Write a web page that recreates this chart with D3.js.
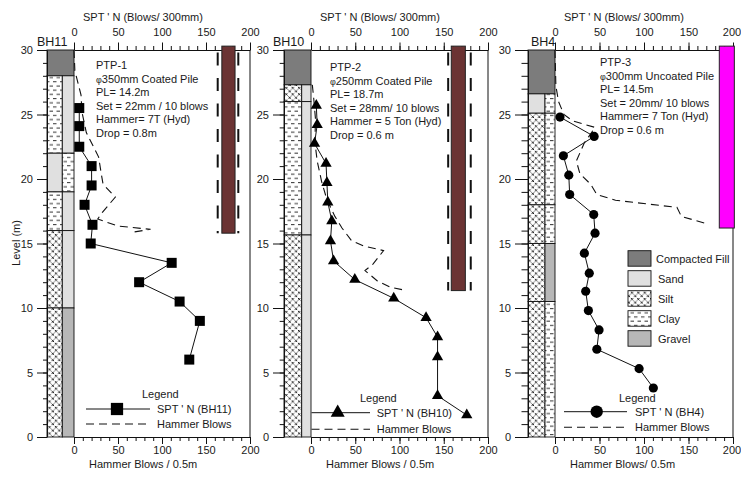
<!DOCTYPE html>
<html>
<head>
<meta charset="utf-8">
<script src="https://cdn.jsdelivr.net/npm/d3@7"></script>
<style>
  html, body { margin: 0; padding: 0; background: #fff; }
  svg { display: block; }
  text { font-family: "Liberation Sans", Arial, sans-serif; fill: #1a1a1a; }
</style>
</head>
<body>
<svg id="chart" width="741" height="479"></svg>
<script>
// ---- Data ---------------------------------------------------------------
const boreholes = ["BH11", "BH10", "BH4"];
const pileTests = ["PTP-1", "PTP-2", "PTP-3"];
const pileNotes = [
  ["350mm Coated Pile", "PL= 14.2m", "Set = 22mm / 10 blows", "Hammer= 7T (Hyd)", "Drop = 0.8m"],
  ["250mm Coated Pile", "PL= 18.7m", "Set = 28mm/ 10 blows", "Hammer = 5 Ton (Hyd)", "Drop = 0.6 m"],
  ["300mm Uncoated Pile", "PL= 14.5m", "Set = 20mm/ 10 blows", "Hammer= 7 Ton (Hyd)", "Drop = 0.6 m"]
];
const soilTypes = ["Compacted Fill", "Sand", "Silt", "Clay", "Gravel"];

// soil layers: [top level, bottom level, left soil, right soil]
const layersBH11 = [
  [30, 28, "Compacted Fill", "Compacted Fill"],
  [28, 22, "Clay", "Sand"],
  [22, 19, "Sand", "Clay"],
  [19, 16, "Clay", "Sand"],
  [16, 10, "Silt", "Sand"],
  [10, 0, "Silt", "Gravel"]
];
const layersBH10 = [
  [30, 27.3, "Compacted Fill", "Compacted Fill"],
  [27.3, 26, "Silt", "Sand"],
  [26, 15.66, "Clay", "Sand"],
  [15.66, 0, "Silt", "Sand"]
];
const layersBH4 = [
  [30, 26.6, "Compacted Fill", "Compacted Fill"],
  [26.6, 25.1, "Sand", "Clay"],
  [25.1, 18, "Silt", "Clay"],
  [18, 15, "Silt", "Clay"],
  [15, 10.5, "Silt", "Gravel"],
  [10.5, 0, "Silt", "Clay"]
];

// SPT N values: [N, level]
const sptBH11 = [[6,25.5],[6,24.1],[6,22.5],[20,21],[20,19.5],[12,18],[21,16.45],[19,15],[111,13.5],[74,12],[120,10.5],[143,9],[131,6]];
const sptBH10 = [[6,25.7],[7,24.2],[4,22.75],[17,21.2],[18,19.7],[19,18.2],[23.5,16.75],[22,15.2],[25.5,13.65],[49.5,12.2],[93.5,10.75],[130,9.25],[143,7.75],[143,6.2],[143,3.2],[176,1.7]];
const sptBH4 = [[5.6,24.8],[44,23.3],[9.4,21.8],[15.5,20.3],[16.5,18.8],[43.5,17.25],[45,15.8],[33,14.25],[38.5,12.7],[34.5,11.3],[37.5,9.8],[49.5,8.3],[47,6.8],[94.5,5.3],[110.5,3.8]];

// Hammer blows per 0.5m: [blows, level]
const hammerPTP1 = [[0,30],[1,28.4],[8,26.5],[9,25.2],[14,23.6],[28,21.7],[31,20.4],[33,19.6],[47,18.6],[32,17.4],[27,16.9],[50,16.35],[87,16.1],[64,15.85]];
const hammerPTP2 = [[1.5,27.3],[3,26.3],[5,24.7],[4.5,22.8],[7,21.4],[12,19.8],[18,18.4],[27,17.1],[35,16.2],[46,15.2],[60,14.8],[82,14.45],[70,13.4],[61,12.9],[75,12.1],[90,11.6],[108,11.35]];
const hammerPTP3 = [[0,30],[1,27.2],[4,26],[10,25],[20,24.5],[45,24],[33,22.8],[24,21.4],[28,20.4],[40,19.6],[47,18.8],[68,18.35],[137,17.8],[142,17.1],[172,16.5]];

// Test pile bars: [left, right] on the blows axis, top and toe levels
const pileSpan = [[168, 183], [158.5, 174.4], [184.6, 201.5]];
const pileTop = [30.3, 30.3, 30.3];
const pileToe = [15.8, 11.35, 16.2];
const pileGuides = [[163.3, 186.7], [155, 180.5], []];

const xTickMajor = [0, 50, 100, 150, 200];
const yTickMajor = [0, 5, 10, 15, 20, 25, 30];

// ---- Styling ----------------------------------------------------------
const soilFill = {
  "Compacted Fill": "#7c7c7c",
  "Sand": "#e0e0e0",
  "Silt": "url(#silt)",
  "Clay": "url(#clay)",
  "Gravel": "#b7b7b7"
};
const pileColor = ["#6b3333", "#6b3333", "#ff00ff"];
const markerShape = [d3.symbolSquare, d3.symbolTriangle, d3.symbolCircle];
const markerSize = [100, 55, 66];
const legendMarkerSize = [150, 85, 120];

const panelGeom = [
  { x0: 74,  x1: 250, colLeft: 47,  split: 62.3,  tickMajor: 10, tickMinor: 4 },
  { x0: 311, x1: 488, colLeft: 284, split: 301.7, tickMajor: 11, tickMinor: 4.3 },
  { x0: 555, x1: 733, colLeft: 528, split: 545,   tickMajor: 13, tickMinor: 6.5 }
];
const layers = [layersBH11, layersBH10, layersBH4];
const spt = [sptBH11, sptBH10, sptBH4];
const hammer = [hammerPTP1, hammerPTP2, hammerPTP3];

const svg = d3.select("#chart");
const y = d3.scaleLinear().domain([0, 30]).range([437, 50]);

// ---- Hatch patterns ---------------------------------------------------
const defs = svg.append("defs");
const clay = defs.append("pattern").attr("id", "clay")
  .attr("patternUnits", "userSpaceOnUse").attr("width", 7).attr("height", 8.4);
clay.append("rect").attr("width", 7).attr("height", 8.4).attr("fill", "#fff");
clay.append("line").attr("x1", 0.5).attr("x2", 4).attr("y1", 2).attr("y2", 2)
  .attr("stroke", "#111").attr("stroke-width", 0.9);
clay.append("line").attr("x1", 4).attr("x2", 7.5).attr("y1", 6.2).attr("y2", 6.2)
  .attr("stroke", "#111").attr("stroke-width", 0.9);
clay.append("line").attr("x1", -0.5).attr("x2", 0.5).attr("y1", 6.2).attr("y2", 6.2)
  .attr("stroke", "#111").attr("stroke-width", 0.9);

const silt = defs.append("pattern").attr("id", "silt")
  .attr("patternUnits", "userSpaceOnUse").attr("width", 6.4).attr("height", 6.4);
silt.append("rect").attr("width", 6.4).attr("height", 6.4).attr("fill", "#fff");
[[1.6, 1.6], [4.8, 4.8]].forEach(([cx, cy]) => {
  silt.append("path")
    .attr("d", `M${cx - 1.2},${cy - 1.2}L${cx + 1.2},${cy + 1.2}M${cx - 1.2},${cy + 1.2}L${cx + 1.2},${cy - 1.2}`)
    .attr("stroke", "#111").attr("stroke-width", 0.9);
});

// ---- Panels -----------------------------------------------------------
panelGeom.forEach((g, i) => {
  const x = d3.scaleLinear().domain([0, 200]).range([g.x0, g.x1]);
  const p = svg.append("g").attr("class", "panel");

  // borehole log column
  const col = p.append("g");
  layers[i].forEach(([top, bottom, left, right]) => {
    const yt = y(top), h = y(bottom) - y(top);
    if (left === right) {
      col.append("rect").attr("x", g.colLeft).attr("y", yt)
        .attr("width", g.x0 - g.colLeft).attr("height", h)
        .attr("fill", soilFill[left]).attr("stroke", "#111").attr("stroke-width", 0.9);
    } else {
      col.append("rect").attr("x", g.colLeft).attr("y", yt)
        .attr("width", g.split - g.colLeft).attr("height", h)
        .attr("fill", soilFill[left]).attr("stroke", "#111").attr("stroke-width", 0.9);
      col.append("rect").attr("x", g.split).attr("y", yt)
        .attr("width", g.x0 - g.split).attr("height", h)
        .attr("fill", soilFill[right]).attr("stroke", "#111").attr("stroke-width", 0.9);
    }
  });

  // left level axis
  const yMinor = p.append("g").attr("transform", `translate(${g.colLeft},0)`)
    .call(d3.axisLeft(y).tickValues(d3.range(0, 31, 1)).tickSize(g.tickMinor).tickSizeOuter(0).tickFormat(""));
  yMinor.select(".domain").remove();
  const yMajor = p.append("g").attr("transform", `translate(${g.colLeft},0)`)
    .call(d3.axisLeft(y).tickValues(yTickMajor).tickSize(g.tickMajor).tickSizeOuter(0).tickPadding(4));
  yMajor.select(".domain").attr("stroke", "#111");
  [yMinor, yMajor].forEach(a => a.selectAll("line").attr("stroke", "#111"));
  yMajor.selectAll("text").attr("font-size", 11).attr("font-family", "Liberation Sans, Arial, sans-serif").attr("fill", "#1a1a1a");

  // top axis (SPT N)
  const topMinor = p.append("g").attr("transform", `translate(0,${y(30)})`)
    .call(d3.axisTop(x).tickValues(d3.range(0, 201, 10)).tickSize(4).tickSizeOuter(0).tickFormat(""));
  topMinor.select(".domain").remove();
  const topMajor = p.append("g").attr("transform", `translate(0,${y(30)})`)
    .call(d3.axisTop(x).tickValues(xTickMajor).tickSize(7.5).tickSizeOuter(0).tickPadding(7));
  // bottom axis (hammer blows)
  const botMinor = p.append("g").attr("transform", `translate(0,${y(0)})`)
    .call(d3.axisBottom(x).tickValues(d3.range(0, 201, 10)).tickSize(4).tickSizeOuter(0).tickFormat(""));
  botMinor.select(".domain").remove();
  const botMajor = p.append("g").attr("transform", `translate(0,${y(0)})`)
    .call(d3.axisBottom(x).tickValues(xTickMajor).tickSize(7).tickSizeOuter(0).tickPadding(2));
  [topMinor, topMajor, botMinor, botMajor].forEach(a => {
    a.selectAll("line").attr("stroke", "#111");
    a.selectAll(".domain").attr("stroke", "#111");
    a.selectAll("text").attr("font-size", 11).attr("font-family", "Liberation Sans, Arial, sans-serif").attr("fill", "#1a1a1a");
  });
  // keep the last panel's right-most labels inside the page edge
  if (i === 2) {
    [topMajor, botMajor].forEach(a => a.selectAll("text").filter(d => d === 200).attr("dx", -1.5));
  }

  // right frame line
  p.append("line").attr("x1", x(200)).attr("x2", x(200))
    .attr("y1", y(30)).attr("y2", y(0)).attr("stroke", "#111").attr("stroke-width", 1);

  // axis titles
  p.append("text").attr("x", g.x0 + 9).attr("y", 21).attr("font-size", 11)
    .text("SPT ' N (Blows/ 300mm)");
  p.append("text").attr("x", g.x0 + 15).attr("y", 467.5).attr("font-size", 11)
    .text(i === 2 ? "Hammer Blows/ 0.5m" : "Hammer Blows / 0.5m");

  // borehole name
  p.append("text").attr("x", [37, 273, 531][i]).attr("y", 46).attr("font-size", 12.5)
    .text(boreholes[i]);

  // test pile bar and its guide lines
  pileGuides[i].forEach(v => {
    p.append("line").attr("x1", x(v)).attr("x2", x(v))
      .attr("y1", y(29.8)).attr("y2", y(pileToe[i]))
      .attr("stroke", "#111").attr("stroke-width", 2).attr("stroke-dasharray", "13,12.5");
  });
  p.append("rect").attr("x", x(pileSpan[i][0])).attr("y", y(pileTop[i]))
    .attr("width", x(pileSpan[i][1]) - x(pileSpan[i][0]))
    .attr("height", y(pileToe[i]) - y(pileTop[i]))
    .attr("fill", pileColor[i]).attr("stroke", "#222").attr("stroke-width", 1);

  // hammer blows profile
  const line = d3.line().x(d => x(d[0])).y(d => y(d[1]));
  p.append("path").datum(hammer[i]).attr("d", line)
    .attr("fill", "none").attr("stroke", "#111").attr("stroke-width", 1.1)
    .attr("stroke-dasharray", "8,5");

  // SPT N profile
  p.append("path").datum(spt[i]).attr("d", line)
    .attr("fill", "none").attr("stroke", "#111").attr("stroke-width", 1);
  const sym = d3.symbol().type(markerShape[i]).size(markerSize[i]);
  p.selectAll(".spt-pt").data(spt[i]).join("path")
    .attr("transform", d => `translate(${x(d[0])},${y(d[1])})`)
    .attr("d", sym).attr("fill", "#000");

  // pile test notes
  const nx = [96, 330, 600][i], ny = [69, 71, 66][i], lh = 13.6;
  p.append("text").attr("x", nx).attr("y", ny).attr("font-size", 11).text(pileTests[i]);
  pileNotes[i].forEach((t, k) => {
    const tx = p.append("text").attr("x", nx).attr("y", ny + lh * (k + 1)).attr("font-size", 11);
    if (k === 0) {
      tx.append("tspan").attr("font-size", 9).text("φ");
      tx.append("tspan").text(t);
    } else {
      tx.text(t);
    }
  });

  // series legend
  const L = [
    { lx: 142, ly: 398, x1: 86, x2: 150, m: 117, y1: 409, y2: 424, tx: 157 },
    { lx: 360, ly: 402, x1: 311.5, x2: 370, m: 337.7, y1: 412.7, y2: 429.3, tx: 376.7 },
    { lx: 619, ly: 401.7, x1: 564, x2: 627, m: 596.7, y1: 411.7, y2: 427.3, tx: 635 }
  ][i];
  p.append("text").attr("x", L.lx).attr("y", L.ly).attr("font-size", 11).text("Legend");
  p.append("line").attr("x1", L.x1).attr("x2", L.x2).attr("y1", L.y1).attr("y2", L.y1)
    .attr("stroke", "#111").attr("stroke-width", 1);
  p.append("path").attr("transform", `translate(${L.m},${L.y1})`)
    .attr("d", d3.symbol().type(markerShape[i]).size(legendMarkerSize[i])).attr("fill", "#000");
  p.append("text").attr("x", L.tx).attr("y", L.y1 + 4).attr("font-size", 11)
    .text(`SPT ' N (${boreholes[i]})`);
  p.append("line").attr("x1", L.x1).attr("x2", L.x2).attr("y1", L.y2).attr("y2", L.y2)
    .attr("stroke", "#111").attr("stroke-width", 1.1).attr("stroke-dasharray", "8,5");
  p.append("text").attr("x", L.tx).attr("y", L.y2 + 4).attr("font-size", 11).text("Hammer Blows");
});

// level axis title
svg.append("text").attr("transform", "translate(20,243) rotate(-90)")
  .attr("text-anchor", "middle").attr("font-size", 11).text("Level (m)");

// soil key
const key = svg.append("g");
soilTypes.forEach((s, k) => {
  const ky = 250.7 + k * 20;
  key.append("rect").attr("x", 628).attr("y", ky).attr("width", 23).attr("height", 15.5)
    .attr("fill", soilFill[s]).attr("stroke", "#111").attr("stroke-width", 0.9);
  key.append("text").attr("x", s === "Compacted Fill" ? 656 : 658).attr("y", ky + 12)
    .attr("font-size", 11).text(s);
});
</script>
</body>
</html>
